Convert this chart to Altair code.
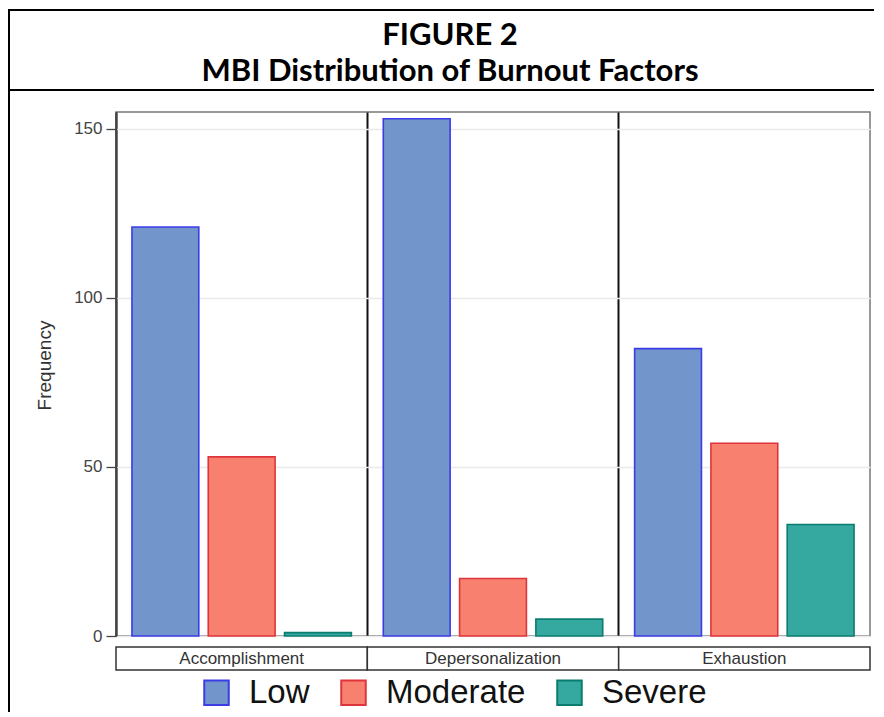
import altair as alt
import pandas as pd

# ---- data ----
factors = ["Accomplishment", "Depersonalization", "Exhaustion"]
levels = ["Low", "Moderate", "Severe"]
low = [121, 153, 85]
moderate = [53, 17, 57]
severe = [1, 5, 33]
y_ticks = [0, 50, 100, 150]
title_lines = ["FIGURE 2", "MBI Distribution of Burnout Factors"]
y_title = "Frequency"

fills = ["#7295CC", "#F8806E", "#35A8A0"]
strokes = ["#3C3CE6", "#E0343C", "#0B7D70"]

rows = []
for i, f in enumerate(factors):
    for lev, vals in zip(levels, [low, moderate, severe]):
        rows.append({"Factor": f, "Level": lev, "Frequency": vals[i]})
df = pd.DataFrame(rows)
strip_df = pd.DataFrame({"Factor": factors})
one = pd.DataFrame({"k": [0]})

W, H = 754, 524
FONT = "Liberation Sans"

xscale = alt.Scale(domain=factors, paddingInner=0, paddingOuter=0)
x_axis = alt.Axis(grid=True, gridColor="#111111", gridWidth=2, bandPosition=0,
                  labels=False, ticks=False, domain=False, title=None)

leg = alt.Legend(orient="none", legendX=84, legendY=564, direction="horizontal",
                 title=None, symbolType="square", symbolSize=600, symbolStrokeWidth=2,
                 labelFontSize=33, labelFont=FONT, labelColor="#111111",
                 labelOffset=16, columnPadding=27, padding=0, symbolOpacity=1)

bars = alt.Chart(df).mark_bar(strokeWidth=1.6, opacity=1).encode(
    x=alt.X("Factor:N", sort=factors, scale=xscale, axis=x_axis),
    xOffset=alt.XOffset("Level:N", sort=levels,
                        scale=alt.Scale(domain=levels, paddingInner=0.124, paddingOuter=0.209)),
    y=alt.Y("Frequency:Q", scale=alt.Scale(domain=[0, 155], nice=False),
            axis=alt.Axis(values=y_ticks, title=y_title, grid=True, gridColor="#EAEAEA",
                          gridWidth=1.5, tickSize=10, tickColor="#444444", tickWidth=1.3,
                          labelFont=FONT, labelFontSize=17, labelColor="#444444",
                          labelPadding=4, titleFont=FONT, titleFontSize=19,
                          titleFontWeight="normal", titleColor="#333333", titlePadding=19,
                          titleY=H / 2 - 9,
                          domainColor="#444444", domainWidth=1.5)),
    fill=alt.Fill("Level:N", sort=levels, scale=alt.Scale(domain=levels, range=fills), legend=leg),
    stroke=alt.Stroke("Level:N", sort=levels, scale=alt.Scale(domain=levels, range=strokes), legend=leg),
)

strip_box = alt.Chart(strip_df).mark_rect(fill="white", stroke="#333333", strokeWidth=1.5).encode(
    x=alt.X("Factor:N", sort=factors, scale=xscale),
    y=alt.value(H + 11),
    y2=alt.value(H + 34),
)
strip_text = alt.Chart(strip_df).mark_text(font=FONT, fontSize=17, color="#333333",
                                           baseline="middle").encode(
    x=alt.X("Factor:N", sort=factors, scale=xscale, bandPosition=0.5),
    y=alt.value(H + 23),
    text="Factor:N",
)

frame_top = alt.Chart(one).mark_rule(color="black", strokeWidth=2).encode(
    x=alt.value(-108), x2=alt.value(758), y=alt.value(-102))
frame_mid = alt.Chart(one).mark_rule(color="black", strokeWidth=2).encode(
    x=alt.value(-108), x2=alt.value(758), y=alt.value(-22))
frame_left = alt.Chart(one).mark_rule(color="black", strokeWidth=2).encode(
    x=alt.value(-107), y=alt.value(-102), y2=alt.value(604))

title = alt.Chart(one).mark_text(font="Lato", fontWeight="bold", fontSize=31, color="black",
                                 align="center", baseline="alphabetic", lineHeight=36).encode(
    x=alt.value(334), y=alt.value(-67), text=alt.value(title_lines))

chart = alt.layer(frame_top, frame_mid, frame_left, title, bars, strip_box, strip_text).properties(
    width=W, height=H,
    autosize=alt.AutoSizeParams(type="none"),
    padding={"left": 108, "top": 104, "right": 4, "bottom": 76},
).configure_view(stroke="#777777", strokeWidth=1.5).configure_scale(
    bandPaddingInner=0, bandPaddingOuter=0)

chart.save("out.html", embed_options={"renderer": "svg", "actions": False})
